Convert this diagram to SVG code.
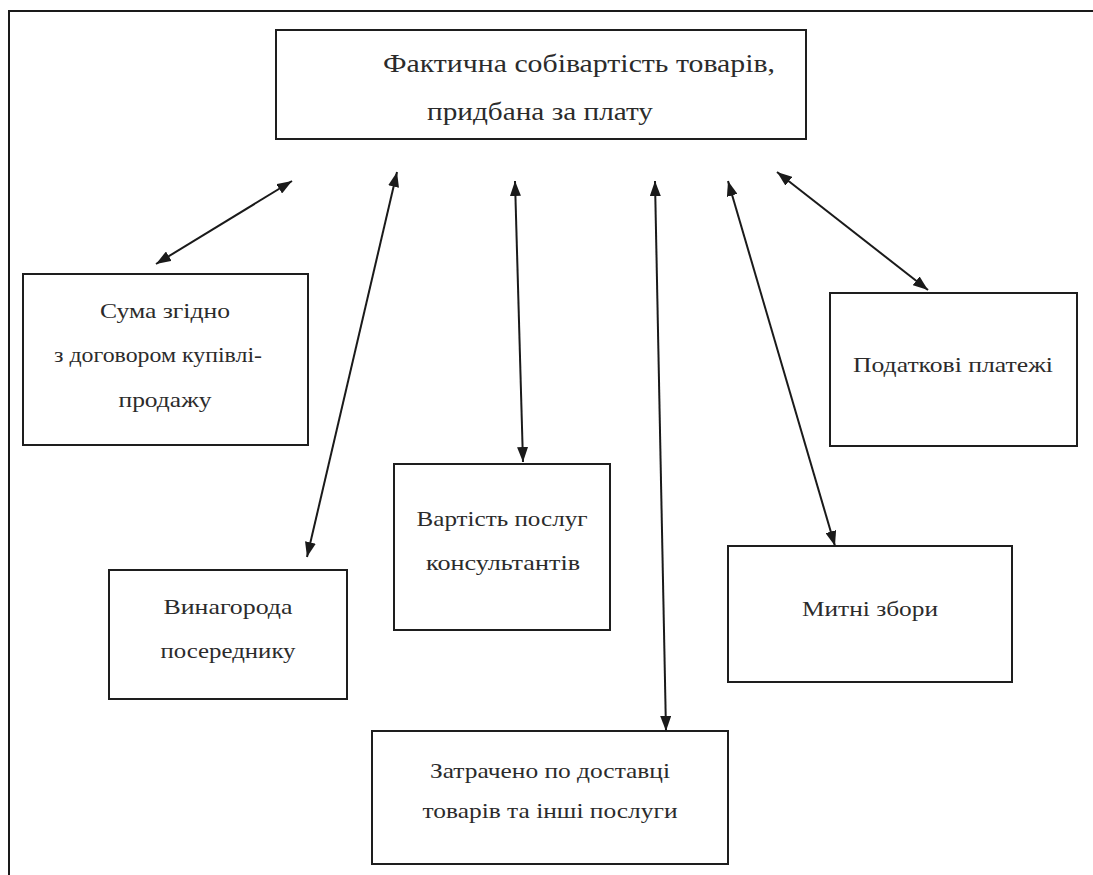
<svg xmlns="http://www.w3.org/2000/svg" width="1093" height="875" viewBox="0 0 1093 875">
<style>
.box{fill:#fff;stroke:#1e1e1e;stroke-width:2}
.t{font-family:"Liberation Serif","DejaVu Serif",serif;font-size:22px;fill:#2b2b2b;text-anchor:middle}
.tt{font-family:"Liberation Serif","DejaVu Serif",serif;font-size:25px;fill:#2b2b2b}
.c{stroke:#1a1a1a;stroke-width:2;fill:none;marker-start:url(#ah);marker-end:url(#ah)}
.frame{stroke:#1a1a1a;stroke-width:2;fill:none}
</style>
<defs>
<marker id="ah" viewBox="0 0 15 11" markerWidth="15" markerHeight="11" refX="15" refY="5.5" orient="auto-start-reverse" markerUnits="userSpaceOnUse">
<path d="M0,0 L15,5.5 L0,11 z" fill="#1a1a1a"/>
</marker>
</defs>
<rect width="1093" height="875" fill="#fff"/>
<path class="frame" d="M9,875 V11 H1093"/>
<g id="top">
<rect class="box" x="276" y="30" width="530" height="109"/>
<text class="tt" x="383" y="72" textLength="392" lengthAdjust="spacingAndGlyphs">Фактична собівартість товарів,</text>
<text class="tt" x="427" y="120" textLength="226" lengthAdjust="spacingAndGlyphs">придбана за плату</text>
</g>
<g id="suma">
<rect class="box" x="23" y="274" width="285" height="171"/>
<text class="t" x="165" y="318" textLength="130" lengthAdjust="spacingAndGlyphs">Сума згідно</text>
<text class="t" x="158" y="362" textLength="208" lengthAdjust="spacingAndGlyphs">з договором купівлі-</text>
<text class="t" x="165" y="407" textLength="93" lengthAdjust="spacingAndGlyphs">продажу</text>
</g>
<g id="vynahoroda">
<rect class="box" x="109" y="570" width="238" height="129"/>
<text class="t" x="228" y="614" textLength="129" lengthAdjust="spacingAndGlyphs">Винагорода</text>
<text class="t" x="228" y="658" textLength="135" lengthAdjust="spacingAndGlyphs">посереднику</text>
</g>
<g id="vartist">
<rect class="box" x="394" y="464" width="216" height="166"/>
<text class="t" x="502" y="526" textLength="171" lengthAdjust="spacingAndGlyphs">Вартість послуг</text>
<text class="t" x="503" y="570" textLength="154" lengthAdjust="spacingAndGlyphs">консультантів</text>
</g>
<g id="podatkovi">
<rect class="box" x="830" y="293" width="247" height="153"/>
<text class="t" x="953" y="372" textLength="200" lengthAdjust="spacingAndGlyphs">Податкові платежі</text>
</g>
<g id="mytni">
<rect class="box" x="728" y="546" width="284" height="136"/>
<text class="t" x="870" y="616" textLength="136" lengthAdjust="spacingAndGlyphs">Митні збори</text>
</g>
<g id="zatracheno">
<rect class="box" x="372" y="731" width="356" height="133"/>
<text class="t" x="550" y="778" textLength="240" lengthAdjust="spacingAndGlyphs">Затрачено по доставці</text>
<text class="t" x="550" y="818" textLength="255" lengthAdjust="spacingAndGlyphs">товарів та інші послуги</text>
</g>
<g id="connectors">
<line class="c" x1="292" y1="181" x2="156" y2="264"/>
<line class="c" x1="397" y1="172" x2="307" y2="557"/>
<line class="c" x1="515" y1="181" x2="523" y2="462"/>
<line class="c" x1="655" y1="181" x2="666" y2="731"/>
<line class="c" x1="728" y1="181" x2="835" y2="546"/>
<line class="c" x1="777" y1="172" x2="928" y2="290"/>
</g>
</svg>
